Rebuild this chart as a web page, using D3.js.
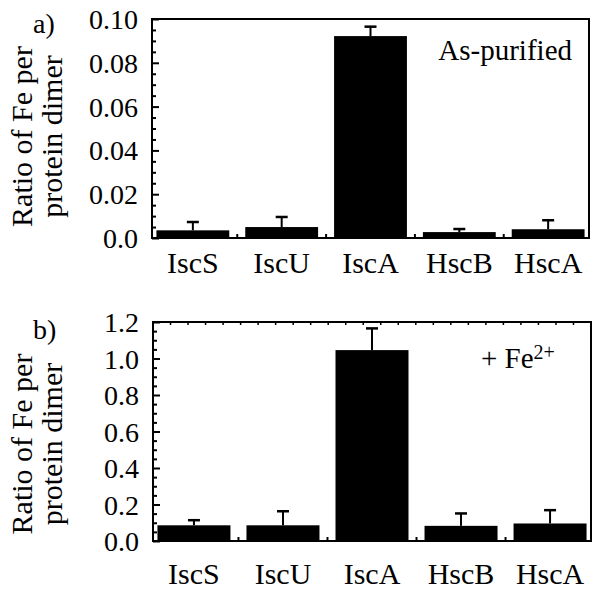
<!DOCTYPE html>
<html><head><meta charset="utf-8">
<script src="https://cdn.jsdelivr.net/npm/d3@7"></script>
<style>
html,body{margin:0;padding:0;background:#fff;}
text{font-family:"Liberation Serif","Times New Roman",serif;fill:#000;}
</style></head>
<body>
<svg id="chart" width="600" height="594"></svg>
<script>
const categories = ["IscS","IscU","IscA","HscB","HscA"];
const asPurified = [0.0035, 0.005, 0.0922, 0.0027, 0.004];
const asPurifiedErr = [0.0038, 0.0046, 0.0043, 0.0014, 0.0041];
const plusFe = [0.086, 0.086, 1.046, 0.083, 0.096];
const plusFeErr = [0.028, 0.077, 0.119, 0.068, 0.073];
const ticksA = [0, 0.02, 0.04, 0.06, 0.08, 0.10];
const tickLabelsA = ["0.0","0.02","0.04","0.06","0.08","0.10"];
const ticksB = [0, 0.2, 0.4, 0.6, 0.8, 1.0, 1.2];
const tickLabelsB = ["0.0","0.2","0.4","0.6","0.8","1.0","1.2"];

const FONT = "Liberation Serif";
const svg = d3.select("#chart");

function panel(opts){
  const g = svg.append("g");
  const x = d3.scaleBand().domain(categories).range([opts.left, opts.right]).paddingInner(0.18).paddingOuter(0.05);
  const y = d3.scaleLinear().domain([0, opts.max]).range([opts.bottom, opts.top]);

  // bars
  g.selectAll("rect.bar").data(categories).join("rect")
    .attr("x", d => x(d)).attr("width", x.bandwidth())
    .attr("y", (d,i) => y(opts.values[i]))
    .attr("height", (d,i) => y(0) - y(opts.values[i]))
    .attr("fill", "#000");

  // error bars
  const eb = g.selectAll("g.err").data(categories).join("g");
  eb.append("line")
    .attr("x1", d => x(d) + x.bandwidth()/2).attr("x2", d => x(d) + x.bandwidth()/2)
    .attr("y1", (d,i) => y(opts.values[i])).attr("y2", (d,i) => y(opts.values[i] + opts.errs[i]))
    .attr("stroke", "#000").attr("stroke-width", 2);
  eb.append("line")
    .attr("x1", d => x(d) + x.bandwidth()/2 - 6).attr("x2", d => x(d) + x.bandwidth()/2 + 6)
    .attr("y1", (d,i) => y(opts.values[i] + opts.errs[i])).attr("y2", (d,i) => y(opts.values[i] + opts.errs[i]))
    .attr("stroke", "#000").attr("stroke-width", 2.5);

  // y axis major
  const ya = g.append("g").attr("transform", `translate(${opts.left},0)`)
    .call(d3.axisLeft(y).tickValues(opts.ticks).tickSize(-7).tickPadding(14)
      .tickFormat((d,i) => opts.tickLabels[i]));
  ya.select(".domain").remove();
  ya.selectAll("line").attr("stroke","#000").attr("stroke-width",2);
  ya.selectAll("text").attr("font-size", 28).attr("font-family",FONT).attr("dy","0.34em");

  // y minor ticks
  const minors = [];
  const mstep = opts.ticks[1]/4;
  for (let k = 1; k < (opts.ticks.length-1)*4; k++) if (k % 4) minors.push(k*mstep);
  const ym = g.append("g").attr("transform", `translate(${opts.left},0)`)
    .call(d3.axisLeft(y).tickValues(minors).tickSize(-4).tickFormat(""));
  ym.select(".domain").remove();
  ym.selectAll("line").attr("stroke","#000").attr("stroke-width",2);

  // x axis labels
  const xa = g.append("g").attr("transform", `translate(0,${opts.bottom})`)
    .call(d3.axisBottom(x).tickSize(0));
  xa.select(".domain").remove();
  xa.selectAll("text").attr("font-size", 30).attr("font-family",FONT)
    .attr("y", opts.labelBase - opts.bottom).attr("dy", 0);

  // boundary ticks on x axis
  const bounds = categories.slice(0,-1).map(d => x(d) + x.bandwidth() + x.step()*x.paddingInner()/2);
  g.selectAll("line.bt").data(bounds).join("line")
    .attr("x1", d=>d).attr("x2", d=>d).attr("y1", opts.bottom).attr("y2", opts.bottom-4)
    .attr("stroke","#000").attr("stroke-width",2);

  if (opts.topTicks) {
    const xt = d3.scaleLinear().domain([0,25]).range([opts.left, opts.right]);
    g.selectAll("line.tt").data(d3.range(1,25)).join("line")
      .attr("x1", d=>xt(d)).attr("x2", d=>xt(d)).attr("y1", opts.top).attr("y2", opts.top+3)
      .attr("stroke","#000").attr("stroke-width",1.5);
  }

  // frame
  g.append("rect").attr("x", opts.left).attr("y", opts.top)
    .attr("width", opts.right-opts.left).attr("height", opts.bottom-opts.top)
    .attr("fill","none").attr("stroke","#000").attr("stroke-width",2);

  // y title
  const t = g.append("text").attr("transform", `translate(32,${opts.titleY}) rotate(-90)`)
    .attr("text-anchor","middle").attr("font-size", 30).attr("font-family",FONT);
  t.append("tspan").attr("x",0).attr("dy",0).text("Ratio of Fe per");
  t.append("tspan").attr("x",0).attr("dy",30).text("protein dimer");

  // panel letter
  g.append("text").attr("x", 33).attr("y", opts.letterY).attr("font-size", 28).attr("font-family",FONT).text(opts.letter);
  return g;
}

const ga = panel({left:152, right:589, top:19, bottom:238, max:0.1,
  values: asPurified, errs: asPurifiedErr, ticks: ticksA, tickLabels: tickLabelsA,
  labelBase: 272.5, titleY: 136.5, letter: "a)", letterY: 33, topTicks:false});
ga.append("text").attr("x", 572).attr("y", 60).attr("text-anchor","end")
  .attr("font-size", 29).attr("font-family",FONT).text("As-purified");

const gb = panel({left:153, right:591, top:322, bottom:541, max:1.2,
  values: plusFe, errs: plusFeErr, ticks: ticksB, tickLabels: tickLabelsB,
  labelBase: 584, titleY: 444, letter: "b)", letterY: 339, topTicks:true});
const fe = gb.append("text").attr("x", 481).attr("y", 368).attr("font-size", 29).attr("font-family",FONT);
fe.append("tspan").text("+ Fe");
fe.append("tspan").attr("font-size", 20).attr("dy", -9).text("2+");
</script>
</body></html>
